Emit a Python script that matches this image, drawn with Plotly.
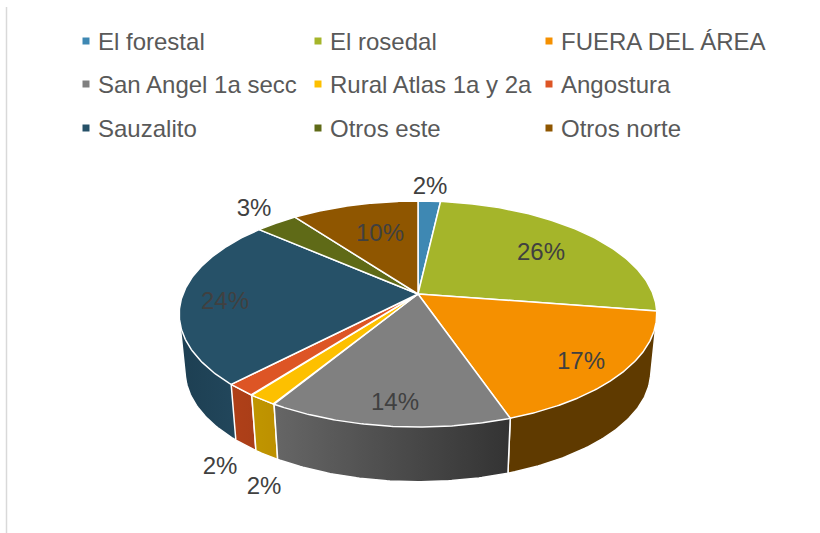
import numpy as np
import plotly.graph_objects as go

CATEGORIES = ["El forestal", "El rosedal", "FUERA DEL ÁREA", "San Angel 1a secc",
              "Rural Atlas 1a y 2a", "Angostura", "Sauzalito", "Otros este", "Otros norte"]
VALUES = [1.8, 25.6, 17.3, 14.0, 1.7, 1.8, 24.2, 3.4, 10.2]

TOP_COLORS = ["#3e88b3", "#a5b52a", "#f59000", "#808080", "#fdc000", "#dd5525", "#265168", "#5f6a17", "#8f5600"]
SIDE_LEFT = ["#2f6a8c", "#7f8c1f", "#5f3a00", "#666666", "#c09600", "#b04018", "#1d3f52", "#49520f", "#6e4200"]
SIDE_RIGHT = ["#2f6a8c", "#7f8c1f", "#5f3a00", "#333333", "#bd9000", "#aa3e18", "#244a60", "#49520f", "#6e4200"]

# perspective model of the pie, in page pixels
CX, CY = 418.0, 294.0
B, A, K = 235.0, 109.5, 0.177
BOTTOM_SCALE, BOTTOM_CY = 0.975, 352.0

LABEL_XY = [(430, 188), (541, 254), (581, 363), (395, 404), (264, 488),
            (220, 468), (225, 303), (254, 210), (380, 235)]
LEGEND_MARKER_X = [86, 318, 549]
LEGEND_ROW_Y = [41, 84, 128]
LEGEND_TEXT_GAP = 10
TEXT_FONT = "Liberation Sans, Arial, sans-serif"
LEGEND_SIZE = 24
LABEL_SIZE = 24


def rim(theta, bottom=False):
    u, v = np.sin(theta), np.cos(theta)
    d = 1 + K * v
    if bottom:
        return CX + BOTTOM_SCALE * B * u / d, BOTTOM_CY - BOTTOM_SCALE * A * v / d
    return CX + B * u / d, CY - A * v / d


def hull(xs, ys):
    """Convex hull (monotone chain): the outline swept between top and bottom rim arcs."""
    pts = sorted(set(zip(xs.tolist(), ys.tolist())))

    def half(points):
        out = []
        for p in points:
            while len(out) >= 2 and ((out[-1][0] - out[-2][0]) * (p[1] - out[-2][1])
                                     - (out[-1][1] - out[-2][1]) * (p[0] - out[-2][0])) <= 0:
                out.pop()
            out.append(p)
        return out[:-1]

    ring = half(pts) + half(pts[::-1])
    ring.append(ring[0])
    return [p[0] for p in ring], [p[1] for p in ring]


total = sum(VALUES)
edges = np.concatenate([[0], np.cumsum(VALUES)]) / total * 2 * np.pi
fig = go.Figure()

# sides, back to front
mids = (edges[:-1] + edges[1:]) / 2
for i in np.argsort(np.cos(mids))[::-1]:
    th = np.linspace(edges[i], edges[i + 1], 80)
    xt, yt = rim(th)
    xb, yb = rim(th, bottom=True)
    hx, hy = hull(np.concatenate([xt, xb]), np.concatenate([yt, yb]))
    fig.add_trace(go.Scatter(
        x=hx, y=hy,
        mode="lines", fill="toself", line=dict(color="#ffffff", width=1.5),
        fillgradient=dict(type="horizontal", colorscale=[[0, SIDE_LEFT[i]], [1, SIDE_RIGHT[i]]]),
        hoverinfo="skip", showlegend=False))

# top faces
for i, cat in enumerate(CATEGORIES):
    th = np.linspace(edges[i], edges[i + 1], 120)
    xt, yt = rim(th)
    fig.add_trace(go.Scatter(
        x=np.concatenate([[CX], xt, [CX]]), y=np.concatenate([[CY], yt, [CY]]),
        mode="lines", fill="toself", fillcolor=TOP_COLORS[i],
        line=dict(color="#ffffff", width=1.5), name=cat, showlegend=False,
        hoverinfo="name"))

# percentage labels
fig.add_trace(go.Scatter(
    x=[p[0] for p in LABEL_XY], y=[p[1] for p in LABEL_XY],
    mode="text", text=[f"{round(v / total * 100)}%" for v in VALUES],
    textposition="middle center",
    textfont=dict(family=TEXT_FONT, size=LABEL_SIZE, color="#404040"),
    hoverinfo="skip", showlegend=False))

# legend grid
annotations = []
for i, cat in enumerate(CATEGORIES):
    mx, my = LEGEND_MARKER_X[i % 3], LEGEND_ROW_Y[i // 3]
    fig.add_trace(go.Scatter(
        x=[mx], y=[my], mode="markers",
        marker=dict(symbol="square", size=7, color=TOP_COLORS[i]),
        hoverinfo="skip", showlegend=False))
    annotations.append(dict(
        x=mx + LEGEND_TEXT_GAP, y=my, xref="x", yref="y", text=cat, showarrow=False,
        xanchor="left", yanchor="middle",
        font=dict(family=TEXT_FONT, size=LEGEND_SIZE, color="#595959")))

fig.update_layout(
    width=820, height=533, margin=dict(l=0, r=0, t=0, b=0),
    paper_bgcolor="#ffffff", plot_bgcolor="#ffffff",
    xaxis=dict(range=[0, 820], visible=False, fixedrange=True),
    yaxis=dict(range=[533, 0], visible=False, fixedrange=True),
    annotations=annotations,
    shapes=[dict(type="line", x0=6.5, x1=6.5, y0=7, y1=533, xref="x", yref="y",
                 line=dict(color="#d9d9d9", width=1.5))],
)
fig.write_html("out.html", config={"displayModeBar": False},
               post_script="document.body.style.margin='0';window.dispatchEvent(new Event('resize'));")
